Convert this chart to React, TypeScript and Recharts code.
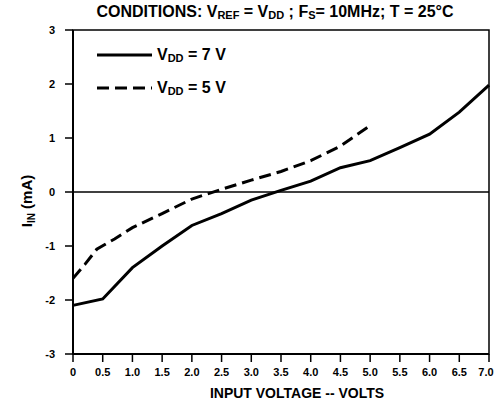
import React from 'react';
import { LineChart, Line, XAxis, YAxis, ReferenceLine, ReferenceArea, Legend, Label } from 'recharts';

const voltage7 = [0, 0.5, 1.0, 1.5, 2.0, 2.5, 3.0, 3.5, 4.0, 4.5, 5.0, 5.5, 6.0, 6.5, 7.0];
const current7 = [-2.1, -1.98, -1.4, -1.0, -0.62, -0.4, -0.15, 0.03, 0.2, 0.45, 0.58, 0.82, 1.07, 1.48, 1.98];

const voltage5 = [0, 0.2, 0.4, 0.7, 1.0, 1.5, 2.0, 2.5, 3.0, 3.5, 4.0, 4.5, 5.0];
const current5 = [-1.6, -1.34, -1.06, -0.87, -0.66, -0.4, -0.13, 0.05, 0.22, 0.38, 0.58, 0.85, 1.23];

const xTicks = [0, 0.5, 1.0, 1.5, 2.0, 2.5, 3.0, 3.5, 4.0, 4.5, 5.0, 5.5, 6.0, 6.5, 7.0];
const yTicks = [-3, -2, -1, 0, 1, 2, 3];

const seriesNames = ['VDD = 7 V', 'VDD = 5 V'];
const legendValues = ['7 V', '5 V'];

const series7 = voltage7.map((x, i) => ({ x, y: current7[i] }));
const series5 = voltage5.map((x, i) => ({ x, y: current5[i] }));

const FONT = '"Liberation Sans", Arial, Helvetica, sans-serif';

const LegendContent = () => (
  <div style={{ fontFamily: FONT, fontWeight: 'bold', fontSize: 16, color: '#000' }}>
    {legendValues.map((v, i) => (
      <div key={i} style={{ display: 'flex', alignItems: 'center', height: 33 }}>
        <svg width={60} height={8} style={{ display: 'block' }}>
          <line x1={0} y1={4} x2={55} y2={4} stroke="#000" strokeWidth={3}
            strokeDasharray={i === 1 ? '12 6' : undefined} />
        </svg>
        <span>V<sub style={{ fontSize: 11, verticalAlign: '-2px' }}>DD</sub> = {v}</span>
      </div>
    ))}
  </div>
);

const XTick = (props: any) => {
  const { x, y, payload } = props;
  const v = payload.value as number;
  const label = v === 0 ? '0' : v.toFixed(1);
  const shift = v === 7 ? -3 : 0;
  return (
    <text x={x + shift} y={y} dy="0.71em" textAnchor="middle" fontFamily={FONT}
      fontWeight="bold" fontSize={11} fill="#000">{label}</text>
  );
};

const YLabel = () => (
  <text x={0} y={0} transform="translate(32,201) rotate(-90)" textAnchor="middle"
    fontFamily={FONT} fontWeight="bold" fontSize={15} fill="#000">
    I<tspan fontSize={10} dy={3}>IN</tspan><tspan dy={-3}> (mA)</tspan>
  </text>
);

const XLabel = () => (
  <text x={297} y={398} textAnchor="middle" fontFamily={FONT} fontWeight="bold" fontSize={14} fill="#000">
    INPUT VOLTAGE -- VOLTS
  </text>
);

export default function App() {
  return (
    <div style={{ position: 'absolute', left: 0, top: 0, width: 495, height: 413, background: '#fff' }}>
      <div style={{ position: 'absolute', left: 55, top: 3, width: 440, textAlign: 'center',
        fontFamily: FONT, fontWeight: 'bold', fontSize: 16, color: '#000', whiteSpace: 'nowrap' }}>
        CONDITIONS: V<sub style={{ fontSize: 11, verticalAlign: '-2px' }}>REF</sub> = V<sub style={{ fontSize: 11, verticalAlign: '-2px' }}>DD</sub> ; F<sub style={{ fontSize: 11, verticalAlign: '-2px' }}>S</sub>= 10MHz; T = 25°C
      </div>
      <LineChart width={495} height={413} margin={{ top: 30, right: 6, bottom: 0, left: 0 }}>
        <XAxis type="number" dataKey="x" domain={[0, 7]} ticks={xTicks} interval={0}
          height={59} tickSize={8} tickMargin={6}
          tick={<XTick />}
          axisLine={{ stroke: '#000', strokeWidth: 2 }} tickLine={{ stroke: '#000', strokeWidth: 1.5 }}>
          <Label content={<XLabel />} />
        </XAxis>
        <YAxis type="number" dataKey="y" domain={[-3, 3]} ticks={yTicks} interval={0}
          width={73} tickSize={8} tickMargin={10}
          tick={{ fontFamily: FONT, fontWeight: 'bold', fontSize: 11, fill: '#000' }}
          axisLine={{ stroke: '#000', strokeWidth: 2 }} tickLine={{ stroke: '#000', strokeWidth: 1.5 }}>
          <Label content={<YLabel />} />
        </YAxis>
        <ReferenceArea x1={0} x2={7} y1={-3} y2={3} fill="none" stroke="#000" strokeWidth={1.5} ifOverflow="visible" />
        <ReferenceLine y={0} stroke="#000" strokeWidth={1.5} />
        <Line data={series7} dataKey="y" name={seriesNames[0]} type="linear" stroke="#000" strokeWidth={3}
          dot={false} isAnimationActive={false} />
        <Line data={series5} dataKey="y" name={seriesNames[1]} type="linear" stroke="#000" strokeWidth={3}
          strokeDasharray="12 6" dot={false} isAnimationActive={false} />
        <Legend layout="vertical" align="center" verticalAlign="middle" content={<LegendContent />}
          wrapperStyle={{ left: 97, top: 38, width: 200, height: 70 }} />
      </LineChart>
    </div>
  );
}
